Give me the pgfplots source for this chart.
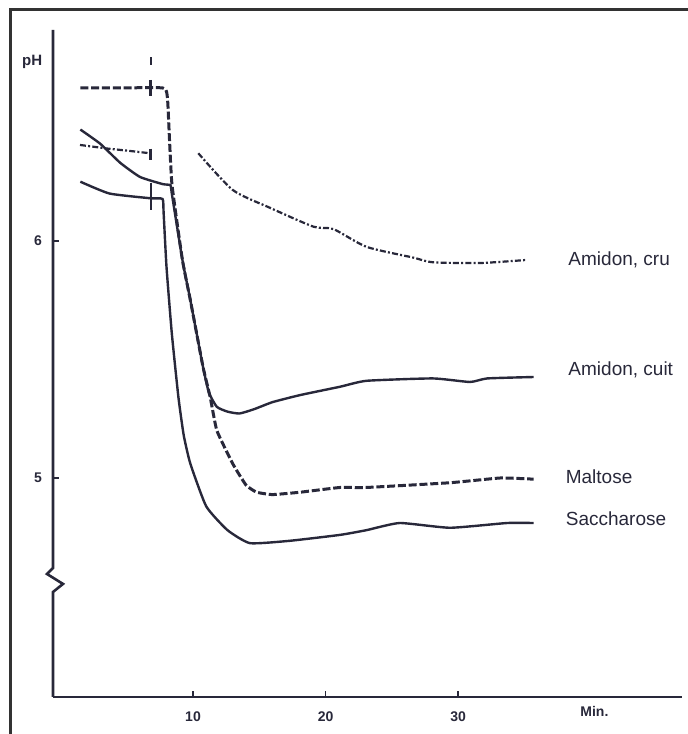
\documentclass[border=0pt]{standalone}
\usepackage{fontspec}
\setmainfont{Liberation Sans}
\usepackage{pgfplots}
\pgfplotsset{compat=1.18}
\definecolor{ink}{RGB}{40,40,58}
\definecolor{frame}{RGB}{50,50,50}

\begin{document}
\begin{tikzpicture}
\useasboundingbox (-26.5pt,-18.5pt) rectangle (317.5pt,348.5pt);
% cadre de la figure
\draw[frame,line width=1.5pt] (-21pt,-19pt) -- (-21pt,343.5pt) -- (318pt,343.5pt);
\begin{axis}[
  scale only axis,
  width=314.5pt, height=333.5pt,
  xmin=-0.566, xmax=46.9,
  ymin=4.076, ymax=6.89,
  axis x line*=bottom, axis y line*=left,
  y axis line style={draw=none},
  x axis line style={ink,line width=1.3pt},
  xtick={10,20,30}, ytick={5,6},
  tick align=inside,
  major tick length=3pt,
  every tick/.style={ink,line width=0.9pt},
  /pgf/number format/assume math mode=true,
  tick label style={font=\fontsize{7}{8}\selectfont\bfseries, text=ink},
  xticklabel style={yshift=-4pt},
  yticklabel style={xshift=-2pt},
  clip=false,
  every axis plot/.append style={ink},
]
% Amidon, cru (tirets-points)
\addplot[line width=1.1pt, dash pattern=on 3pt off 1.1pt on 1pt off 1.1pt] coordinates {
  (1.47,6.405) (3.5,6.39) (5.2,6.38) (6.75,6.37)
};
\addplot[line width=1.1pt, dash pattern=on 3pt off 1.1pt on 1pt off 1.1pt, smooth, tension=0.4] coordinates {
  (10.4,6.37) (13.0,6.215) (15.8,6.14) (19.1,6.06) (20.6,6.05) (23.1,5.975)
  (26.6,5.93) (28.1,5.91) (31.7,5.907) (35.2,5.92)
};
% Amidon, cuit
\addplot[line width=1.2pt, smooth, tension=0.3] coordinates {
  (1.5,6.47) (3.0,6.41) (4.5,6.33) (6.0,6.27) (7.7,6.24) (8.3,6.235)
  (8.4,6.2) (9.2,5.92) (9.8,5.75) (10.75,5.47) (11.2,5.36) (11.8,5.30)
  (12.6,5.28) (13.5,5.272) (14.6,5.29) (16.0,5.32) (18.1,5.35) (21.1,5.385)
  (23.1,5.41) (28.1,5.42) (30.9,5.405) (32.2,5.42) (35.7,5.426)
};
% Maltose (tirets)
\addplot[line width=1.5pt, dash pattern=on 4pt off 1.4pt, smooth, tension=0.25] coordinates {
  (1.5,6.646) (4.5,6.646) (7.7,6.646) (8.0,6.63) (8.1,6.58) (8.4,6.245)
  (9.2,5.92) (9.8,5.75) (10.75,5.47) (11.3,5.34) (11.8,5.20) (13.0,5.06)
  (14.0,4.97) (14.8,4.94) (16.0,4.93) (18.1,4.94) (21.1,4.96) (23.1,4.96)
  (29.4,4.98) (33.2,5.0) (35.7,4.995)
};
% Saccharose
\addplot[line width=1.2pt, smooth, tension=0.3] coordinates {
  (1.5,6.25) (3.7,6.2) (6.8,6.18) (7.7,6.177) (7.78,6.12) (8.0,5.89)
  (8.4,5.61) (8.9,5.34) (9.3,5.18) (9.8,5.06) (11.0,4.88) (12.6,4.78)
  (14.3,4.725) (17.3,4.735) (21.1,4.76) (23.1,4.78) (25.6,4.81) (29.4,4.79)
  (33.7,4.81) (35.7,4.81)
};
% reperes d'addition
\addplot[line width=1.1pt] coordinates {(6.8,6.776) (6.8,6.743)};
\addplot[line width=1.3pt] coordinates {(6.8,6.68) (6.8,6.61)};
\addplot[line width=1.3pt] coordinates {(6.8,6.39) (6.8,6.34)};
\addplot[line width=1.1pt] coordinates {(6.8,6.245) (6.8,6.13)};
% axe des pH avec coupure
\draw[ink,line width=1.3pt] (axis cs:-0.566,6.89) -- (axis cs:-0.566,4.620)
  -- (axis cs:-1.019,4.595) -- (axis cs:0.189,4.553) -- (axis cs:-0.566,4.519)
  -- (axis cs:-0.566,4.076);
% textes
\node[anchor=east, text=ink, font=\fontsize{7.5}{8}\selectfont\bfseries] at (axis cs:-0.85,6.755) {pH};
\node[anchor=west, text=ink, font=\fontsize{7}{8}\selectfont\bfseries] at (axis cs:38.7,4.015) {Min.};
\node[anchor=west, text=ink, font=\fontsize{9.5}{11}\selectfont] at (axis cs:37.8,5.92) {Amidon, cru};
\node[anchor=west, text=ink, font=\fontsize{9.5}{11}\selectfont] at (axis cs:37.8,5.456) {Amidon, cuit};
\node[anchor=west, text=ink, font=\fontsize{9.5}{11}\selectfont] at (axis cs:37.6,5.004) {Maltose};
\node[anchor=west, text=ink, font=\fontsize{9.5}{11}\selectfont] at (axis cs:37.6,4.827) {Saccharose};
\end{axis}
\end{tikzpicture}
\end{document}
